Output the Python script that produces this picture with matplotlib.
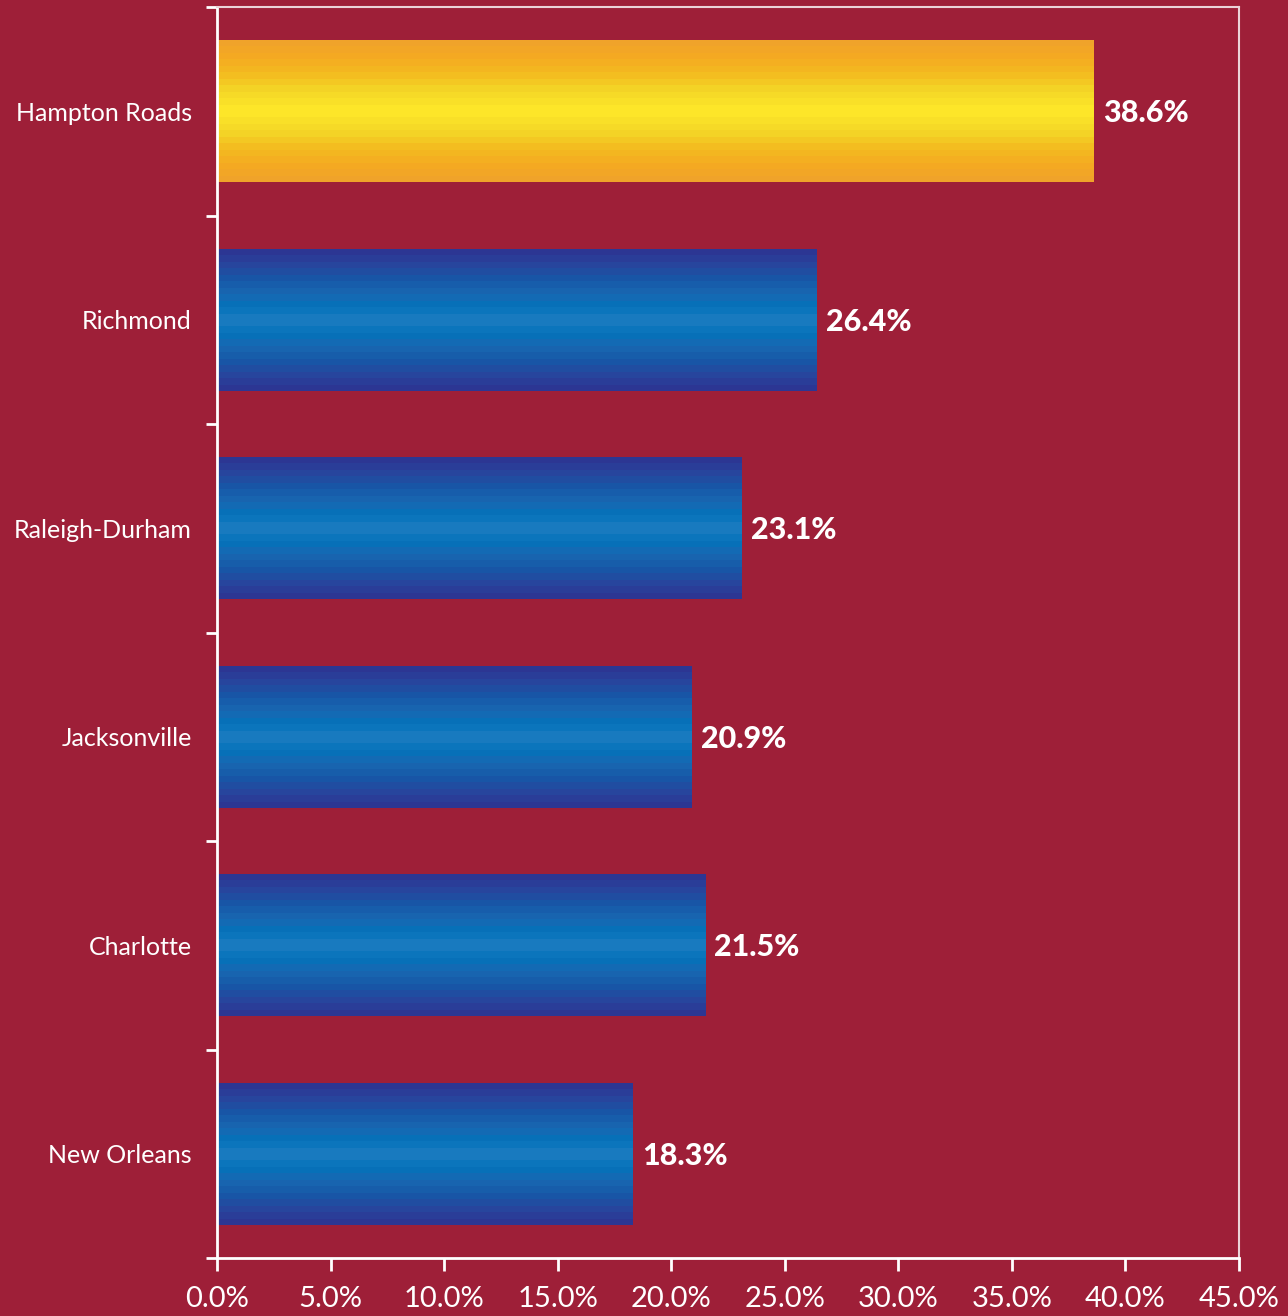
import numpy as np
import matplotlib
matplotlib.use("Agg")
import matplotlib.pyplot as plt
from matplotlib.colors import LinearSegmentedColormap

categories = ["Hampton Roads", "Richmond", "Raleigh-Durham", "Jacksonville", "Charlotte", "New Orleans"]
values = [38.6, 26.4, 23.1, 20.9, 21.5, 18.3]
xticks = [0, 5, 10, 15, 20, 25, 30, 35, 40, 45]
xtick_labels = ["0.0%", "5.0%", "10.0%", "15.0%", "20.0%", "25.0%", "30.0%", "35.0%", "40.0%", "45.0%"]

BG = "#9E1F38"
plt.rcParams['font.family'] = ['Lato', 'DejaVu Sans']

fig = plt.figure(figsize=(12.88, 13.16), dpi=100, facecolor=BG)
ax = fig.add_axes([217/1288, 1 - 1258/1316, (1239-217)/1288, (1258-7)/1316])
ax.set_facecolor(BG)

blue_cmap = LinearSegmentedColormap.from_list("blue", [
    (0.0, "#2E3391"), (0.12, "#27469E"), (0.22, "#1659A8"), (0.32, "#1A68B2"),
    (0.4, "#0373BA"), (0.5, "#1E7CC1"), (0.6, "#0373BA"), (0.68, "#1A68B2"),
    (0.78, "#1659A8"), (0.88, "#27469E"), (1.0, "#2E3391")])
yellow_cmap = LinearSegmentedColormap.from_list("yellow", [
    (0.0, "#F0A22C"), (0.12, "#F5AA22"), (0.25, "#F3BE20"), (0.35, "#F4D627"),
    (0.5, "#FFE92A"), (0.65, "#F4D627"), (0.75, "#F3BE20"), (0.88, "#F5AA22"),
    (1.0, "#F0A22C")])

ypos = np.arange(len(categories))
bar_h = 0.68
bars = ax.barh(ypos, values, height=bar_h, color="none", edgecolor="none")
nb = 22
grad = ((np.arange(nb) + 0.5) / nb).reshape(-1, 1)
for i, (b, v) in enumerate(zip(bars, values)):
    cmap = yellow_cmap if i == 0 else blue_cmap
    x0, y0 = b.get_x(), b.get_y()
    w, h = b.get_width(), b.get_height()
    im = ax.imshow(grad, cmap=cmap, vmin=0, vmax=1, aspect="auto",
                   extent=(x0, x0 + w, y0 + h, y0), interpolation="nearest", zorder=2)
    im.set_clip_path(b)
    ax.text(v + 0.4, ypos[i] + 0.01, f"{v:.1f}%", va="center", ha="left", color="white",
            fontsize=22, fontweight="black", zorder=3)

ax.set_xlim(0, 45)
ax.set_ylim(len(categories) - 0.5, -0.5)

ax.set_xticks(xticks)
ax.set_xticklabels(xtick_labels)
ax.set_yticks(np.arange(-0.5, len(categories) + 0.5, 1))
ax.set_yticklabels([])
ax.set_yticks(ypos, minor=True)
ax.set_yticklabels(categories, minor=True)

ax.tick_params(axis="x", colors="white", labelsize=21, length=9, width=2, pad=11, labelcolor="white")
ax.tick_params(axis="y", which="major", colors="white", length=8, width=2)
ax.tick_params(axis="y", which="minor", length=0, pad=18, labelsize=18, labelcolor="white")

for s in ["left", "bottom"]:
    ax.spines[s].set_color("white")
    ax.spines[s].set_linewidth(2)
for s in ["top", "right"]:
    ax.spines[s].set_color("#EBD3D8")
    ax.spines[s].set_linewidth(1.5)

fig.savefig("out.png", dpi=100, facecolor=BG)
